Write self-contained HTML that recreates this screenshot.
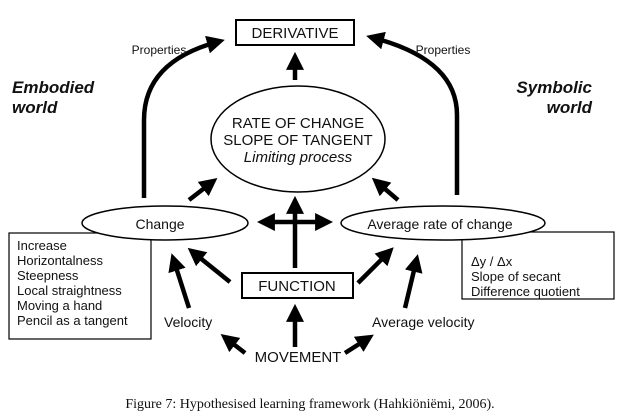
<!DOCTYPE html>
<html><head><meta charset="utf-8"><style>
body{margin:0;background:#fff;}
svg{display:block;}
text{font-family:"Liberation Sans",Arial,sans-serif;fill:#111;}
</style></head><body>
<svg width="621" height="419" viewBox="0 0 621 419" xmlns="http://www.w3.org/2000/svg">
<defs>
<marker id="a" markerWidth="4" markerHeight="4" refX="2.2" refY="2" orient="auto" markerUnits="strokeWidth">
<path d="M0,0 L4,2 L0,4 z" fill="#000"/></marker>
</defs>
<g stroke="#000" stroke-width="4.5" fill="none" marker-end="url(#a)">
<path d="M144,198 L144,120 Q144,62 217,42"/>
<path d="M457,195 L457,115 Q457,60 374,38"/>
<line x1="295" y1="80" x2="295" y2="60"/>
<line x1="189" y1="200" x2="211" y2="183"/>
<line x1="398" y1="200" x2="378" y2="183"/>
<line x1="295" y1="222" x2="265" y2="222"/>
<line x1="295" y1="222" x2="325" y2="222"/>
<line x1="295" y1="268" x2="295" y2="204"/>
<line x1="230" y1="282" x2="194" y2="253"/>
<line x1="189" y1="308" x2="174" y2="261"/>
<line x1="358" y1="283" x2="388" y2="253"/>
<line x1="405" y1="308" x2="416" y2="262"/>
<line x1="295" y1="347" x2="295" y2="312"/>
<line x1="245" y1="353" x2="227" y2="339"/>
<line x1="345" y1="353" x2="367" y2="339"/>
</g>
<rect x="236" y="20" width="118" height="25" fill="#fff" stroke="#000" stroke-width="2"/>
<text x="295" y="38" font-size="15" text-anchor="middle">DERIVATIVE</text>
<text x="159" y="54" font-size="12" text-anchor="middle">Properties</text>
<text x="443" y="54" font-size="12" text-anchor="middle">Properties</text>
<text x="12" y="93" font-size="17" font-weight="bold" font-style="italic">Embodied</text>
<text x="12" y="113" font-size="17" font-weight="bold" font-style="italic">world</text>
<text x="592" y="93" font-size="17" font-weight="bold" font-style="italic" text-anchor="end">Symbolic</text>
<text x="592" y="113" font-size="17" font-weight="bold" font-style="italic" text-anchor="end">world</text>
<ellipse cx="298" cy="139" rx="87" ry="53" fill="#fff" stroke="#000" stroke-width="1.5"/>
<text x="298" y="128" font-size="15" text-anchor="middle">RATE OF CHANGE</text>
<text x="298" y="145" font-size="15" text-anchor="middle">SLOPE OF TANGENT</text>
<text x="298" y="162" font-size="15" font-style="italic" text-anchor="middle">Limiting process</text>
<rect x="9" y="233" width="142" height="106" fill="#fff" stroke="#000" stroke-width="1.2"/>
<rect x="462" y="232" width="152" height="67" fill="#fff" stroke="#000" stroke-width="1.2"/>
<ellipse cx="165" cy="223" rx="83" ry="17" fill="#fff" stroke="#000" stroke-width="1.5"/>
<ellipse cx="443" cy="223" rx="102" ry="17" fill="#fff" stroke="#000" stroke-width="1.5"/>
<text x="160" y="229" font-size="14" text-anchor="middle">Change</text>
<text x="440" y="229" font-size="14" text-anchor="middle">Average rate of change</text>
<g font-size="13">
<text x="17" y="250">Increase</text>
<text x="17" y="265">Horizontalness</text>
<text x="17" y="280">Steepness</text>
<text x="17" y="295">Local straightness</text>
<text x="17" y="310">Moving a hand</text>
<text x="17" y="325">Pencil as a tangent</text>
<text x="471" y="266">Δy / Δx</text>
<text x="471" y="281">Slope of secant</text>
<text x="471" y="296">Difference quotient</text>
</g>
<rect x="242" y="273" width="111" height="25" fill="#fff" stroke="#000" stroke-width="2"/>
<text x="297" y="291" font-size="15" text-anchor="middle">FUNCTION</text>
<text x="164" y="327" font-size="14">Velocity</text>
<text x="372" y="327" font-size="14">Average velocity</text>
<text x="298" y="362" font-size="15" text-anchor="middle">MOVEMENT</text>
<text x="310" y="408" font-size="14" text-anchor="middle" style="font-family:'Liberation Serif',serif">Figure 7: Hypothesised learning framework (Hahkiöniëmi, 2006).</text>
</svg>
</body></html>
